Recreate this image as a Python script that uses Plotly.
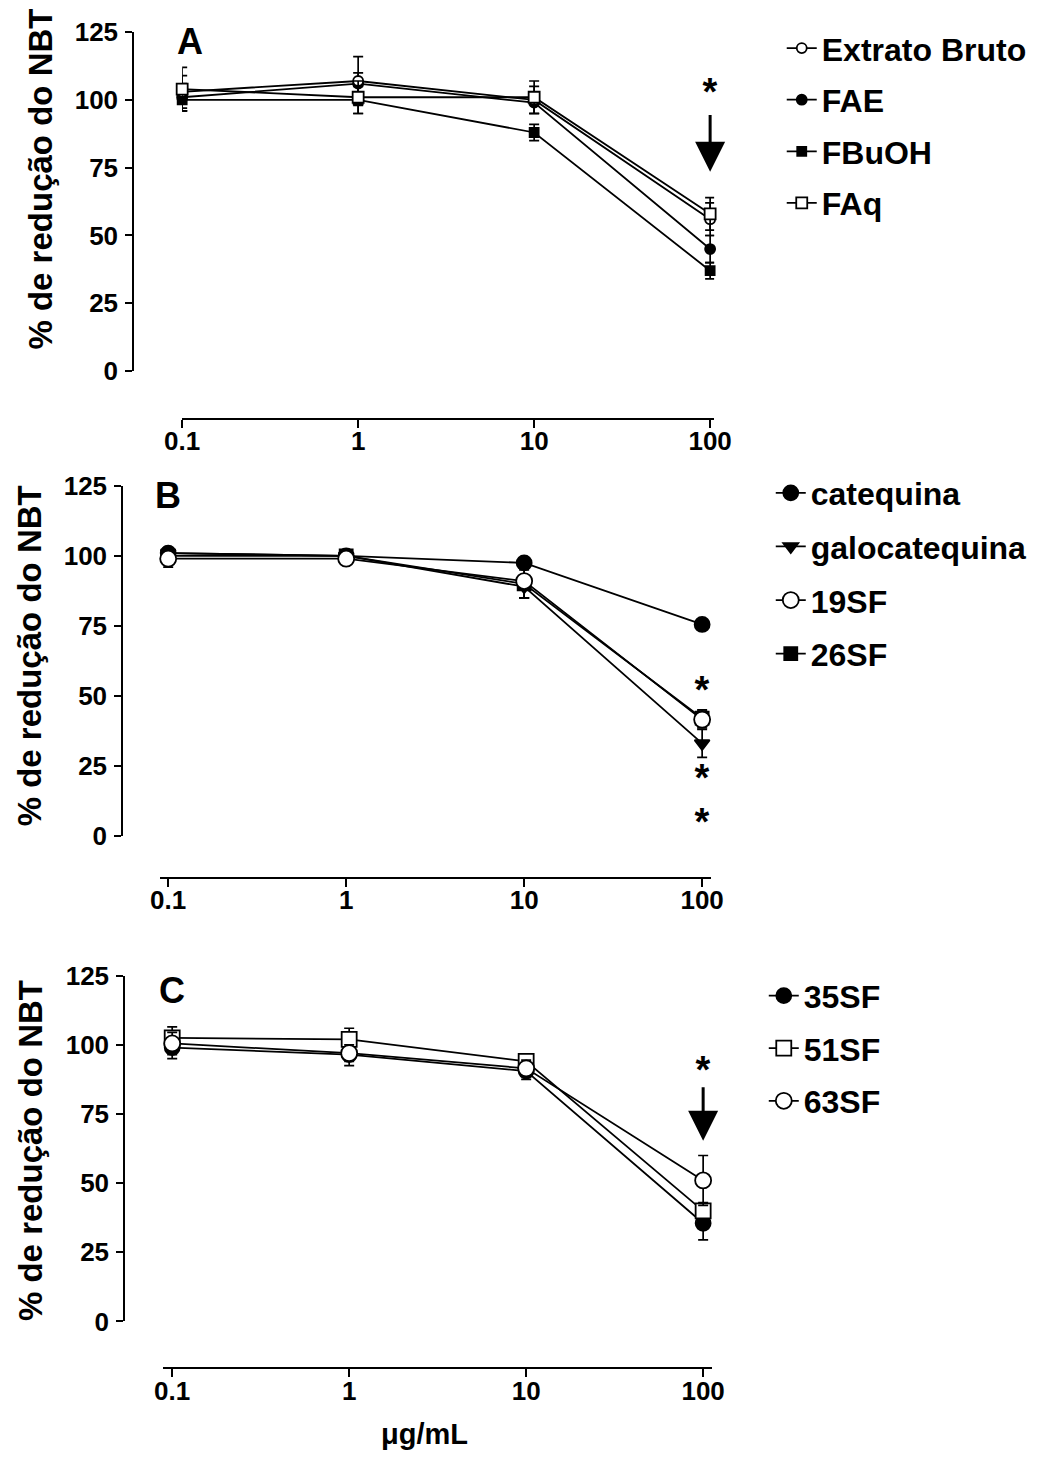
import math
import plotly.graph_objects as go

# ---------------- data ----------------
conc = [0.1, 1, 10, 100]
tick_vals = [0.1, 1, 10, 100]
tick_text = ["0.1", "1", "10", "100"]
y_ticks = [0, 25, 50, 75, 100, 125]

# Panel A
extrato_bruto = [103, 107, 100, 56]
extrato_bruto_err = [6, 9, 5, 6]
fae = [101, 106, 99, 45]
fae_err = [5, 4, 4, 5]
fbuoh = [100, 100, 88, 37]
fbuoh_err = [4, 5, 3, 3]
faq = [104, 101, 101, 58]
faq_err = [8, 6, 6, 6]

# Panel B
catequina = [101, 100, 97.5, 75.5]
catequina_err = [1, 1, 1, 1]
galocatequina = [101, 100, 89, 33]
galocatequina_err = [2, 2, 4, 5]
sf19 = [99, 99, 91, 41.5]
sf19_err = [3, 2, 6, 3]
sf26 = [100, 100, 90, 42]
sf26_err = [3, 2, 5, 3]

# Panel C
sf35 = [99, 96.5, 90.5, 35.5]
sf35_err = [4, 4, 3, 6]
sf51 = [102.5, 102, 94, 40]
sf51_err = [4, 4, 2, 3]
sf63 = [100.5, 97, 91.5, 51]
sf63_err = [4, 3, 3, 9]

W, H = 1043, 1461
FONT = "Liberation Sans, Arial, sans-serif"
BLACK = "#000000"

# the photographed page appears slightly inset; map picture pixels -> paper
SX, OX = 0.9674, 17.5
SY, OY = 0.980, 13.8


def fx(p):
    return ((p - OX) / SX) / W


def fy(p):
    return 1 - ((p - OY) / SY) / H


fig = go.Figure()


def add(name, y, err, symbol, fill, size, xa, ya, legend, rank):
    fig.add_trace(go.Scatter(
        x=conc, y=y, name=name, mode="lines+markers",
        xaxis=xa, yaxis=ya, legend=legend, legendrank=rank,
        legendgroup=name,
        line=dict(color=BLACK, width=1.8),
        marker=dict(symbol=symbol, size=size, color=fill,
                    line=dict(color=BLACK, width=1.8)),
        error_y=dict(type="data", array=err, visible=True,
                     color=BLACK, thickness=1.7, width=5),
        cliponaxis=False,
    ))


# Panel A
add("FBuOH", fbuoh, fbuoh_err, "square", BLACK, 9, "x", "y", "legend", 3)
add("FAE", fae, fae_err, "circle", BLACK, 10, "x", "y", "legend", 2)
add("Extrato Bruto", extrato_bruto, extrato_bruto_err, "circle", "white", 10, "x", "y", "legend", 1)
add("FAq", faq, faq_err, "square", "white", 11, "x", "y", "legend", 4)

# Panel B
add("26SF", sf26, sf26_err, "square", BLACK, 13, "x2", "y2", "legend2", 4)
add("galocatequina", galocatequina, galocatequina_err, "triangle-down", BLACK, 13, "x2", "y2", "legend2", 2)
add("catequina", catequina, catequina_err, "circle", BLACK, 15, "x2", "y2", "legend2", 1)
add("19SF", sf19, sf19_err, "circle", "white", 16, "x2", "y2", "legend2", 3)

# Panel C
add("35SF", sf35, sf35_err, "circle", BLACK, 15, "x3", "y3", "legend3", 1)
add("51SF", sf51, sf51_err, "square", "white", 15, "x3", "y3", "legend3", 2)
add("63SF", sf63, sf63_err, "circle", "white", 16, "x3", "y3", "legend3", 3)

tickfont = dict(family=FONT, size=26, color=BLACK, weight="bold")

panels = [
    # (line start, tick 0.1, tick 100, line end, y top(125), y bottom(0), yaxis x, xaxis y)
    (182, 182, 711, 715, 31, 370, 133, 418),
    (160, 168, 703, 712, 485, 835, 122, 877),
    (163, 172, 704, 713, 975, 1321, 124, 1368),
]

layout_axes = {}
for i, (ls, t01, t100, le, yt, yb, yax, xay) in enumerate(panels):
    xk = "xaxis" if i == 0 else f"xaxis{i+1}"
    yk = "yaxis" if i == 0 else f"yaxis{i+1}"
    dec = (t100 - t01) / 3.0
    xr = [-1 - (t01 - ls) / dec, 2 + (le - t100) / dec]
    layout_axes[xk] = dict(
        type="log", domain=[fx(ls), fx(le)], range=xr,
        anchor="free", position=fy(xay),
        tickvals=tick_vals, ticktext=tick_text,
        showline=True, linecolor=BLACK, linewidth=2,
        ticks="outside", ticklen=8, tickwidth=1.7, tickcolor=BLACK,
        showgrid=False, zeroline=False, tickfont=tickfont,
        ticklabelstandoff=-9,
    )
    layout_axes[yk] = dict(
        domain=[fy(yb), fy(yt)], range=[0, 125],
        anchor="free", position=fx(yax),
        tickvals=y_ticks,
        showline=True, linecolor=BLACK, linewidth=2,
        ticks="outside", ticklen=7, tickwidth=1.7, tickcolor=BLACK,
        showgrid=False, zeroline=False, tickfont=tickfont,
        ticklabelstandoff=2,
    )

legend_font = dict(family=FONT, size=32, color=BLACK, weight="bold")
legend_common = dict(
    font=legend_font, bgcolor="rgba(0,0,0,0)", xanchor="left", yanchor="top",
    itemclick=False, itemdoubleclick=False,
)


def legend_x(text_start):
    return ((text_start - OX) / SX - 41.6) / W


def legend_y(first_center):
    return 1 - ((first_center - OY) / SY - 31.0) / H


annotations = []
# y-axis titles
for xc, yc in [(40, 178), (29, 655), (30, 1150)]:
    annotations.append(dict(
        text="% de redução do NBT", xref="paper", yref="paper",
        x=fx(xc), y=fy(yc), textangle=-90, showarrow=False,
        font=dict(family=FONT, size=33, color=BLACK, weight="bold"),
        xanchor="center", yanchor="middle"))
# panel letters
for letter, (lx, ly) in zip(["A", "B", "C"], [(190, 40), (168, 495), (172, 990)]):
    annotations.append(dict(
        text=letter, xref="paper", yref="paper", x=fx(lx), y=fy(ly),
        showarrow=False, xanchor="center", yanchor="middle",
        font=dict(family=FONT, size=36, color=BLACK, weight="bold")))
# x-axis title
annotations.append(dict(
    text="μg/mL", xref="paper", yref="paper", x=fx(425), y=fy(1434),
    showarrow=False, xanchor="center", yanchor="middle",
    font=dict(family=FONT, size=29, color=BLACK, weight="bold")))

star_font = dict(family=FONT, size=38, color=BLACK, weight="bold")
# significance stars (data coords)
stars = [("x", "y", 100, 103), ("x2", "y2", 100, 52), ("x2", "y2", 100, 20.5),
         ("x2", "y2", 100, 5.0), ("x3", "y3", 100, 91)]
for xa, ya, xv, yv in stars:
    annotations.append(dict(
        text="*", xref=xa, yref=ya, x=math.log10(xv), y=yv, showarrow=False,
        xanchor="center", yanchor="middle", height=28, width=22,
        valign="middle", font=star_font))
# arrows
for xa, ya, tip, tail in [("x", "y", 73.5, 95), ("x3", "y3", 65.3, 85.2)]:
    annotations.append(dict(
        text="", xref=xa, yref=ya, x=math.log10(100), y=tip,
        axref=xa, ayref=ya, ax=math.log10(100), ay=tail,
        showarrow=True, arrowhead=2, arrowsize=2.0, arrowwidth=3,
        arrowcolor=BLACK))

fig.update_layout(
    width=W, height=H,
    margin=dict(l=0, r=0, t=0, b=0),
    paper_bgcolor="white", plot_bgcolor="white",
    showlegend=True,
    legend=dict(x=legend_x(823), y=legend_y(50), tracegroupgap=7, **legend_common),
    legend2=dict(x=legend_x(812), y=legend_y(495), tracegroupgap=9, **legend_common),
    legend3=dict(x=legend_x(805), y=legend_y(998), tracegroupgap=8, **legend_common),
    annotations=annotations,
    **layout_axes,
)

fig.write_html("out.html")
